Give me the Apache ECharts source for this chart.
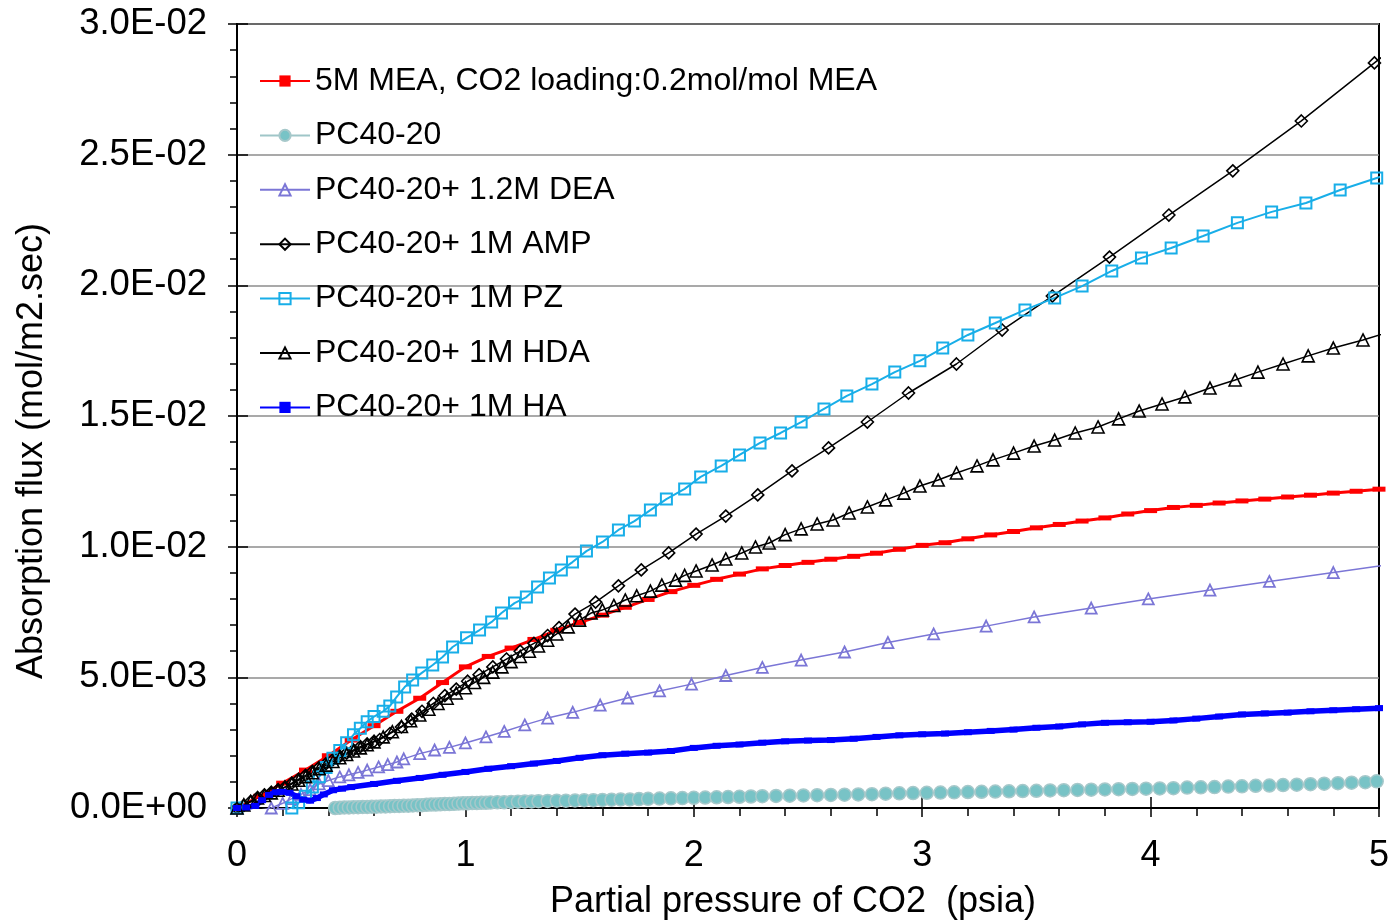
<!DOCTYPE html>
<html>
<head>
<meta charset="utf-8">
<script src="https://cdn.jsdelivr.net/npm/echarts@6/dist/echarts.min.js"></script>
<style>
  html, body { margin: 0; padding: 0; background: #fff; }
  #chart { width: 1392px; height: 922px; }
</style>
</head>
<body>
<div id="chart"></div>
<script>
// CO2 absorption flux vs. CO2 partial pressure.
// Points are [partial pressure (psia), flux in 1e-3 mol/m2.sec].

const seriesNames = [
  '5M MEA, CO2 loading:0.2mol/mol MEA',
  'PC40-20',
  'PC40-20+ 1.2M DEA',
  'PC40-20+ 1M AMP',
  'PC40-20+ 1M PZ',
  'PC40-20+ 1M HDA',
  'PC40-20+ 1M HA'
];

const xTicks = [0, 1, 2, 3, 4, 5];
const yTicksMilli = [0, 5, 10, 15, 20, 25, 30];

const meaFlux = [
  [0,0],[0.1,0.45],[0.2,0.95],[0.3,1.45],[0.4,2.0],[0.5,2.6],[0.6,3.15],[0.7,3.7],[0.8,4.2],[0.9,4.8],
  [1.0,5.4],[1.1,5.8],[1.2,6.12],[1.3,6.45],[1.4,6.8],[1.5,7.1],[1.6,7.38],[1.7,7.68],[1.8,7.98],[1.9,8.28],
  [2.0,8.52],[2.1,8.75],[2.2,8.95],[2.3,9.15],[2.4,9.28],[2.5,9.4],[2.6,9.52],[2.7,9.63],[2.8,9.75],[2.9,9.9],
  [3.0,10.05],[3.1,10.15],[3.2,10.3],[3.3,10.45],[3.4,10.58],[3.5,10.72],[3.6,10.85],[3.7,10.98],[3.8,11.1],[3.9,11.25],
  [4.0,11.38],[4.1,11.5],[4.2,11.58],[4.3,11.67],[4.4,11.75],[4.5,11.82],[4.6,11.9],[4.7,11.97],[4.8,12.05],[4.9,12.12],
  [5.0,12.2],[5.1,12.27]
];

const pcFlux = [
  [0.43,0.0],[0.45,0.01],[0.47,0.02],[0.49,0.02],[0.51,0.03],[0.53,0.03],[0.55,0.04],[0.57,0.04],[0.59,0.05],[0.61,0.05],
  [0.63,0.06],[0.65,0.06],[0.67,0.07],[0.69,0.08],[0.71,0.08],[0.73,0.09],[0.75,0.09],[0.77,0.10],[0.79,0.11],[0.81,0.11],
  [0.83,0.12],[0.85,0.13],[0.87,0.13],[0.89,0.14],[0.91,0.15],[0.93,0.15],[0.95,0.16],[0.97,0.17],[0.99,0.18],[1.01,0.18],
  [1.03,0.19],[1.05,0.19],[1.07,0.2],[1.09,0.2],[1.11,0.21],[1.14,0.22],[1.17,0.22],[1.20,0.23],[1.23,0.24],[1.26,0.25],
  [1.29,0.25],[1.32,0.26],[1.36,0.27],[1.40,0.28],[1.44,0.28],[1.48,0.29],[1.52,0.30],[1.56,0.30],[1.60,0.31],[1.64,0.32],
  [1.68,0.33],[1.72,0.33],[1.76,0.34],[1.80,0.35],[1.85,0.36],[1.90,0.37],[1.95,0.38],[2.00,0.39],[2.05,0.40],[2.10,0.41],
  [2.15,0.42],[2.20,0.43],[2.25,0.44],[2.30,0.45],[2.36,0.46],[2.42,0.47],[2.48,0.48],[2.54,0.49],[2.60,0.50],[2.66,0.51],
  [2.72,0.52],[2.78,0.53],[2.84,0.55],[2.90,0.56],[2.96,0.57],[3.02,0.58],[3.08,0.59],[3.14,0.60],[3.20,0.61],[3.26,0.62],
  [3.32,0.63],[3.38,0.64],[3.44,0.65],[3.50,0.66],[3.56,0.67],[3.62,0.68],[3.68,0.69],[3.74,0.70],[3.80,0.71],[3.86,0.72],
  [3.92,0.73],[3.98,0.74],[4.04,0.75],[4.10,0.76],[4.16,0.78],[4.22,0.79],[4.28,0.80],[4.34,0.82],[4.40,0.83],[4.46,0.85],
  [4.52,0.86],[4.58,0.88],[4.64,0.89],[4.70,0.91],[4.76,0.93],[4.82,0.95],[4.88,0.97],[4.94,0.99],[4.99,1.02],[5.05,1.04]
];

const deaFlux = [
  [0,0],[0.05,-0.05],[0.1,-0.08],[0.15,0.0],[0.2,0.18],[0.24,0.36],[0.28,0.52],[0.32,0.7],[0.36,0.92],[0.4,1.05],
  [0.45,1.19],[0.49,1.27],[0.53,1.36],[0.57,1.45],[0.62,1.57],[0.66,1.66],[0.7,1.76],[0.73,1.88],[0.8,2.08],[0.865,2.22],
  [0.93,2.32],[1.0,2.49],[1.09,2.72],[1.17,2.93],[1.26,3.18],[1.36,3.44],[1.47,3.66],[1.59,3.94],[1.71,4.21],[1.85,4.48],
  [1.99,4.74],[2.14,5.07],[2.3,5.38],[2.47,5.66],[2.66,5.97],[2.85,6.33],[3.05,6.66],[3.28,6.96],[3.49,7.31],[3.74,7.65],
  [3.99,8.0],[4.26,8.34],[4.52,8.67],[4.8,9.01],[5.06,9.33]
];

const ampFlux = [
  [0,0],[0.03,0.1],[0.06,0.25],[0.09,0.4],[0.12,0.5],[0.15,0.6],[0.18,0.7],[0.21,0.8],[0.24,0.95],[0.27,1.1],
  [0.30,1.25],[0.33,1.4],[0.36,1.55],[0.39,1.7],[0.42,1.85],[0.45,1.98],[0.48,2.1],[0.51,2.22],[0.54,2.35],[0.57,2.45],
  [0.60,2.55],[0.625,2.62],[0.67,2.85],[0.72,3.1],[0.765,3.4],[0.81,3.7],[0.86,4.0],[0.91,4.3],[0.96,4.55],[1.01,4.85],
  [1.06,5.1],[1.12,5.4],[1.18,5.7],[1.24,6.0],[1.30,6.3],[1.36,6.6],[1.41,6.9],[1.48,7.42],[1.57,7.88],[1.67,8.5],
  [1.77,9.11],[1.89,9.76],[2.01,10.48],[2.14,11.17],[2.28,11.98],[2.43,12.9],[2.59,13.78],[2.76,14.77],[2.94,15.88],[3.15,16.99],
  [3.35,18.29],[3.57,19.59],[3.82,21.08],[4.08,22.69],[4.36,24.38],[4.66,26.29],[4.98,28.51],[5.05,29.0]
];

const pzFlux = [
  [0,0],[0.04,-0.05],[0.08,-0.1],[0.12,-0.15],[0.16,-0.16],[0.2,-0.13],[0.24,0.0],[0.27,0.2],[0.3,0.45],[0.33,0.8],
  [0.36,1.2],[0.39,1.55],[0.42,1.9],[0.45,2.2],[0.48,2.5],[0.51,2.8],[0.54,3.05],[0.57,3.3],[0.6,3.5],[0.64,3.7],
  [0.669,3.9],[0.699,4.25],[0.734,4.63],[0.769,4.9],[0.809,5.17],[0.857,5.47],[0.9,5.78],[0.944,6.16],[1.005,6.51],[1.062,6.81],
  [1.115,7.12],[1.158,7.46],[1.215,7.84],[1.267,8.07],[1.316,8.46],[1.368,8.8],[1.42,9.11],[1.469,9.41],[1.53,9.83],[1.6,10.18],
  [1.67,10.64],[1.74,10.98],[1.81,11.4],[1.88,11.82],[1.96,12.21],[2.03,12.67],[2.12,13.09],[2.2,13.51],[2.29,13.97],[2.38,14.35],
  [2.47,14.77],[2.57,15.27],[2.67,15.77],[2.78,16.22],[2.88,16.68],[2.99,17.11],[3.09,17.6],[3.2,18.1],[3.32,18.56],[3.45,19.06],
  [3.58,19.52],[3.7,19.97],[3.83,20.55],[3.96,21.05],[4.09,21.43],[4.23,21.89],[4.38,22.39],[4.53,22.81],[4.68,23.15],[4.83,23.65],
  [4.99,24.11],[5.06,24.3]
];

const hdaFlux = [
  [0,0],[0.03,0.12],[0.06,0.25],[0.09,0.38],[0.12,0.48],[0.15,0.58],[0.18,0.68],[0.21,0.8],[0.24,0.92],[0.27,1.06],
  [0.3,1.2],[0.33,1.35],[0.36,1.5],[0.39,1.64],[0.42,1.78],[0.45,1.92],[0.48,2.05],[0.51,2.18],[0.54,2.3],[0.57,2.42],
  [0.6,2.53],[0.64,2.72],[0.68,2.92],[0.72,3.12],[0.76,3.34],[0.8,3.56],[0.84,3.78],[0.88,4.0],[0.92,4.2],[0.96,4.4],
  [1.0,4.6],[1.04,4.8],[1.08,5.0],[1.12,5.2],[1.16,5.4],[1.2,5.6],[1.24,5.8],[1.28,6.0],[1.32,6.2],[1.36,6.42],
  [1.4,6.66],[1.45,6.93],[1.5,7.19],[1.55,7.46],[1.6,7.58],[1.65,7.75],[1.7,7.96],[1.75,8.12],[1.81,8.3],[1.86,8.53],
  [1.92,8.72],[1.96,8.9],[2.01,9.07],[2.08,9.3],[2.14,9.53],[2.21,9.76],[2.27,9.99],[2.33,10.14],[2.4,10.46],[2.47,10.68],
  [2.54,10.87],[2.61,11.02],[2.68,11.29],[2.76,11.52],[2.84,11.79],[2.92,12.05],[2.99,12.32],[3.07,12.55],[3.15,12.82],[3.24,13.09],
  [3.31,13.32],[3.4,13.58],[3.49,13.85],[3.58,14.08],[3.67,14.35],[3.77,14.58],[3.86,14.89],[3.95,15.19],[4.05,15.46],[4.15,15.73],
  [4.26,16.07],[4.37,16.38],[4.47,16.68],[4.58,16.99],[4.69,17.3],[4.8,17.6],[4.93,17.91],[5.06,18.25]
];

const haFlux = [
  [0,0],[0.04,0.02],[0.08,0.08],[0.11,0.3],[0.14,0.5],[0.17,0.6],[0.2,0.62],[0.23,0.58],[0.26,0.45],[0.29,0.32],
  [0.32,0.28],[0.35,0.38],[0.38,0.52],[0.42,0.68],[0.46,0.74],[0.5,0.8],[0.6,0.92],[0.7,1.04],[0.8,1.15],[0.9,1.27],
  [1.0,1.38],[1.1,1.5],[1.2,1.6],[1.3,1.7],[1.4,1.8],[1.5,1.92],[1.6,2.02],[1.7,2.08],[1.8,2.12],[1.9,2.18],
  [2.0,2.3],[2.1,2.38],[2.2,2.43],[2.3,2.5],[2.4,2.55],[2.5,2.58],[2.6,2.6],[2.7,2.65],[2.8,2.72],[2.9,2.78],
  [3.0,2.82],[3.1,2.85],[3.2,2.9],[3.3,2.95],[3.4,3.0],[3.5,3.07],[3.6,3.12],[3.7,3.2],[3.8,3.26],[3.9,3.28],
  [4.0,3.3],[4.1,3.35],[4.2,3.42],[4.3,3.5],[4.4,3.58],[4.5,3.62],[4.6,3.65],[4.7,3.7],[4.8,3.74],[4.9,3.78],
  [5.0,3.82],[5.1,3.86]
];

const FONT = '"Liberation Sans", Arial, Helvetica, sans-serif';
const HOLLOW = 'rgba(255,255,255,0)';

// Flux is stored in 1e-3 mol/m2.sec; labels show the full value as 0.0E+00.
function sciLabel(vMilli) {
  const s = (vMilli * 1e-3).toExponential(1);
  const parts = s.split('e');
  const sign = parts[1][0] === '-' ? '-' : '+';
  const digits = parts[1].replace(/^[+-]/, '').padStart(2, '0');
  return parts[0] + 'E' + sign + digits;
}

function lineSeries(name, data, opts) {
  return Object.assign({
    name: name,
    type: 'line',
    data: data,
    xAxisIndex: 0,
    yAxisIndex: 0,
    clip: true,
    silent: true,
    emphasis: { disabled: true }
  }, opts);
}

const chart = echarts.init(document.getElementById('chart'), null, { renderer: 'canvas' });

const tickStyle = { color: '#000', width: 1.5 };

chart.setOption({
  animation: false,
  backgroundColor: '#fff',
  textStyle: { fontFamily: FONT },
  grid: {
    left: 237, right: 10, top: 24, bottom: 114,
    show: true, borderColor: '#000', borderWidth: 2, backgroundColor: 'transparent'
  },
  legend: {
    orient: 'vertical',
    left: 254,
    top: 59,
    itemWidth: 50,
    itemHeight: 14,
    itemGap: 20.4,
    selectedMode: false,
    data: seriesNames,
    textStyle: { fontFamily: FONT, fontSize: 32, color: '#000', lineHeight: 34 }
  },
  xAxis: [
    {
      type: 'value', position: 'bottom',
      min: xTicks[0], max: xTicks[xTicks.length - 1], interval: 1,
      axisLine: { show: true, onZero: false, lineStyle: { color: '#000', width: 2 } },
      axisTick: { show: true, inside: false, length: 9, lineStyle: tickStyle },
      minorTick: { show: true, splitNumber: 5, length: 8, lineStyle: tickStyle },
      splitLine: { show: false },
      axisLabel: { fontFamily: FONT, fontSize: 36, color: '#000', margin: 30 }
    },
    {
      type: 'value', position: 'bottom',
      min: xTicks[0], max: xTicks[xTicks.length - 1], interval: 1,
      axisLine: { show: false, onZero: false },
      axisTick: { show: true, inside: true, length: 11, lineStyle: tickStyle },
      splitLine: { show: false },
      axisLabel: { show: false }
    }
  ],
  yAxis: [
    {
      type: 'value', position: 'left',
      min: yTicksMilli[0], max: yTicksMilli[yTicksMilli.length - 1], interval: 5,
      axisLine: { show: true, onZero: false, lineStyle: { color: '#000', width: 2 } },
      axisTick: { show: true, inside: false, length: 9, lineStyle: tickStyle },
      minorTick: { show: true, splitNumber: 5, length: 7, lineStyle: tickStyle },
      splitLine: { show: true, lineStyle: { color: '#8c8c8c', width: 1.5 } },
      axisLabel: { fontFamily: FONT, fontSize: 36.5, color: '#000', margin: 30, formatter: sciLabel }
    },
    {
      type: 'value', position: 'left',
      min: yTicksMilli[0], max: yTicksMilli[yTicksMilli.length - 1], interval: 5,
      axisLine: { show: false, onZero: false },
      axisTick: { show: true, inside: true, length: 11, lineStyle: tickStyle },
      splitLine: { show: false },
      axisLabel: { show: false }
    }
  ],
  graphic: [
    {
      type: 'text', x: 793, y: 902,
      style: {
        text: 'Partial pressure of CO2  (psia)', font: '36px ' + FONT, fill: '#000',
        textAlign: 'center', textVerticalAlign: 'middle'
      }
    },
    {
      type: 'text', x: 32, y: 451, rotation: Math.PI / 2,
      style: {
        text: 'Absorption flux (mol/m2.sec)', font: '36px ' + FONT, fill: '#000',
        textAlign: 'center', textVerticalAlign: 'middle'
      }
    }
  ],
  series: [
    lineSeries(seriesNames[0], meaFlux, {
      symbol: 'rect', symbolSize: [13, 5],
      lineStyle: { color: '#ff0000', width: 3 },
      itemStyle: { color: '#ff0000' }
    }),
    lineSeries(seriesNames[1], pcFlux, {
      symbol: 'circle', symbolSize: 13,
      lineStyle: { color: '#9fc6c8', width: 1.5 },
      itemStyle: { color: '#78c3c6', borderColor: '#a6c8ca', borderWidth: 1.5 }
    }),
    lineSeries(seriesNames[2], deaFlux, {
      symbol: 'triangle', symbolSize: 11,
      lineStyle: { color: '#7b76d6', width: 1.5 },
      itemStyle: { color: HOLLOW, borderColor: '#7b76d6', borderWidth: 1.8 }
    }),
    lineSeries(seriesNames[3], ampFlux, {
      symbol: 'diamond', symbolSize: 12,
      lineStyle: { color: '#000', width: 1.5 },
      itemStyle: { color: HOLLOW, borderColor: '#000', borderWidth: 1.6 }
    }),
    lineSeries(seriesNames[4], pzFlux, {
      symbol: 'rect', symbolSize: 11,
      lineStyle: { color: '#18aee8', width: 2 },
      itemStyle: { color: HOLLOW, borderColor: '#18aee8', borderWidth: 2 }
    }),
    lineSeries(seriesNames[5], hdaFlux, {
      symbol: 'triangle', symbolSize: 12,
      lineStyle: { color: '#000', width: 1.5 },
      itemStyle: { color: HOLLOW, borderColor: '#000', borderWidth: 1.6 }
    }),
    lineSeries(seriesNames[6], haFlux, {
      symbol: 'rect', symbolSize: [8, 6],
      lineStyle: { color: '#0000ff', width: 5.5 },
      itemStyle: { color: '#0000ff' }
    })
  ]
});
</script>
</body>
</html>
